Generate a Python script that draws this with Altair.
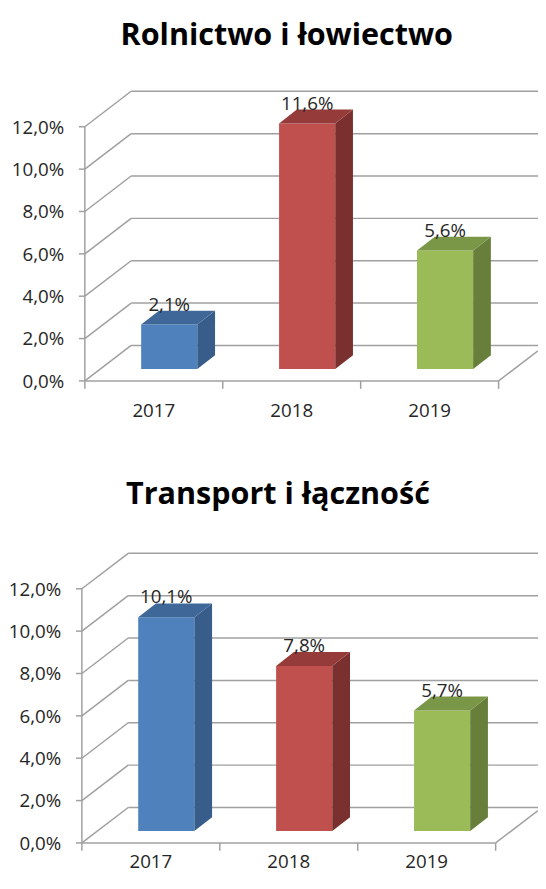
import altair as alt
import pandas as pd

# ---- data ----
years = ["2017", "2018", "2019"]
titles = ["Rolnictwo i łowiectwo", "Transport i łączność"]
values_rol = [2.1, 11.6, 5.6]
values_tra = [10.1, 7.8, 5.7]
y_ticks = [0, 2, 4, 6, 8, 10, 12]
panel_values = [values_rol, values_tra]

# ---- styles ----
front_colors = ["#4F81BD", "#C0504D", "#9BBB59"]
side_colors = ["#385D8A", "#7A302E", "#677F3B"]
top_colors = ["#3F6899", "#953B39", "#7A9747"]
GRID = "#A0A0A0"
TEXT = "#262626"
FONT = "Open Sans"

# ---- geometry: px per unit and oblique depth ----
PX = 140.0                      # px per category unit
PY = 21.5                       # px per percentage point
CW, CH = 538, 867               # whole drawing
AXIS_PX = 78                    # distance of value axis from left edge
XL = -0.5 - AXIS_PX / PX
XR = XL + CW / PX
YB = -26 / PY
YT = YB + CH / PY
DX, DY = 47 / PX, 36 / PY       # wall depth
HALF = 28.5 / PX                # half width of bar front
FX, FY = DX / 3, DY / 3         # bar front set into depth
BX, BY = 18 / PX, 14 / PY       # bar depth
TICK_X, TICK_Y = 6 / PX, 8 / PY
YLAB_GAP = 21 / PX

# per panel placement (style)
OFF_Y = [469 / PY, 0.0]
OFF_X = [0.0, -3 / PX]
TITLE_X = [(291 - 86) / PX - 0.5, (282 - 83) / PX - 0.5]
TITLE_Y = [341 / PY, 344 / PY]
XLAB_Y = [-37 / PY, -25.5 / PY]

n = len(years)
rules, fronts, areas, vlabels, ylabels, xlabels, tlabels = [], [], [], [], [], [], []


def fmt(v):
    return f"{v:.1f}".replace(".", ",") + "%"


for p, vals in enumerate(panel_values):
    ox, oy = OFF_X[p], OFF_Y[p]

    def R(x, x2, y, y2):
        rules.append(dict(x=x + ox, x2=x2 + ox, y=y + oy, y2=y2 + oy))

    for v in y_ticks:
        R(-0.5 + DX, XR - ox, v + DY, v + DY)             # back wall
        R(-0.5, -0.5 + DX, v, v + DY)                     # left wall
        R(-0.5 - TICK_X, -0.5, v, v)                      # value tick
        ylabels.append(dict(x=-0.5 - YLAB_GAP + ox, y=v + oy, label=fmt(v)))
    R(-0.5, -0.5, 0, max(y_ticks))                        # value axis line
    R(-0.5, n - 0.5, 0, 0)                                 # floor front
    end_x = min(XR - ox, n - 0.5 + DX)
    R(n - 0.5, end_x, 0, (end_x - (n - 0.5)) / DX * DY)    # floor right edge
    for k in range(n + 1):
        R(k - 0.5, k - 0.5, 0, -TICK_Y)                    # category ticks
    for i, yr in enumerate(years):
        xlabels.append(dict(x=i + ox, y=XLAB_Y[p] + oy, label=yr))

    for i, v in enumerate(vals):
        key = f"{p}-{years[i]}"
        x1, x2 = i - HALF + FX + ox, i + HALF + FX + ox
        b = FY + oy
        t = v + FY + oy
        fronts.append(dict(x=x1, x2=x2, y=b, y2=t, col=front_colors[i]))
        areas.append(dict(key="s" + key, x=x2, y=b, y2=t, col=side_colors[i]))
        areas.append(dict(key="s" + key, x=x2 + BX, y=b + BY, y2=t + BY, col=side_colors[i]))
        areas.append(dict(key="t" + key, x=x1, y=t, y2=t, col=top_colors[i]))
        areas.append(dict(key="t" + key, x=x1 + BX, y=t, y2=t + BY, col=top_colors[i]))
        areas.append(dict(key="t" + key, x=x2, y=t, y2=t + BY, col=top_colors[i]))
        areas.append(dict(key="t" + key, x=x2 + BX, y=t + BY, y2=t + BY, col=top_colors[i]))
        vlabels.append(dict(x=i + FX + ox, y=t + BY, label=fmt(v)))

    tlabels.append(dict(x=TITLE_X[p] + ox, y=TITLE_Y[p] + oy, label=titles[p]))

xs = alt.Scale(domain=[XL, XR], nice=False, zero=False)
ys = alt.Scale(domain=[YB, YT], nice=False, zero=False)


def X(f="x"):
    return alt.X(f"{f}:Q", scale=xs, axis=None)


def Y(f="y"):
    return alt.Y(f"{f}:Q", scale=ys, axis=None, stack=None)


grid = alt.Chart(pd.DataFrame(rules)).mark_rule(color=GRID, strokeWidth=1.5).encode(
    x=X(), x2="x2:Q", y=Y(), y2="y2:Q"
)
front = alt.Chart(pd.DataFrame(fronts)).mark_rect().encode(
    x=X(), x2="x2:Q", y=Y(), y2="y2:Q", color=alt.Color("col:N", scale=None)
)
faces = alt.Chart(pd.DataFrame(areas)).mark_area(orient="vertical").encode(
    x=X(), y=Y(), y2="y2:Q", detail="key:N", color=alt.Color("col:N", scale=None)
)
val_text = alt.Chart(pd.DataFrame(vlabels)).mark_text(
    font=FONT, fontSize=19, color=TEXT, baseline="alphabetic", align="center"
).encode(x=X(), y=Y(), text="label:N")
y_text = alt.Chart(pd.DataFrame(ylabels)).mark_text(
    font=FONT, fontSize=19, color=TEXT, baseline="middle", align="right", dy=1
).encode(x=X(), y=Y(), text="label:N")
x_text = alt.Chart(pd.DataFrame(xlabels)).mark_text(
    font=FONT, fontSize=19, color=TEXT, baseline="alphabetic", align="center"
).encode(x=X(), y=Y(), text="label:N")
t_text = alt.Chart(pd.DataFrame(tlabels)).mark_text(
    font=FONT, fontSize=31, fontWeight="bold", color="#000000",
    baseline="alphabetic", align="center"
).encode(x=X(), y=Y(), text="label:N")

chart = alt.layer(grid, front, faces, val_text, y_text, x_text, t_text).properties(
    width=CW, height=CH,
    autosize=alt.AutoSizeParams(type="none"),
    padding=0,
).configure_view(stroke=None)

chart.save("out.html", embed_options={"renderer": "svg", "actions": False})
